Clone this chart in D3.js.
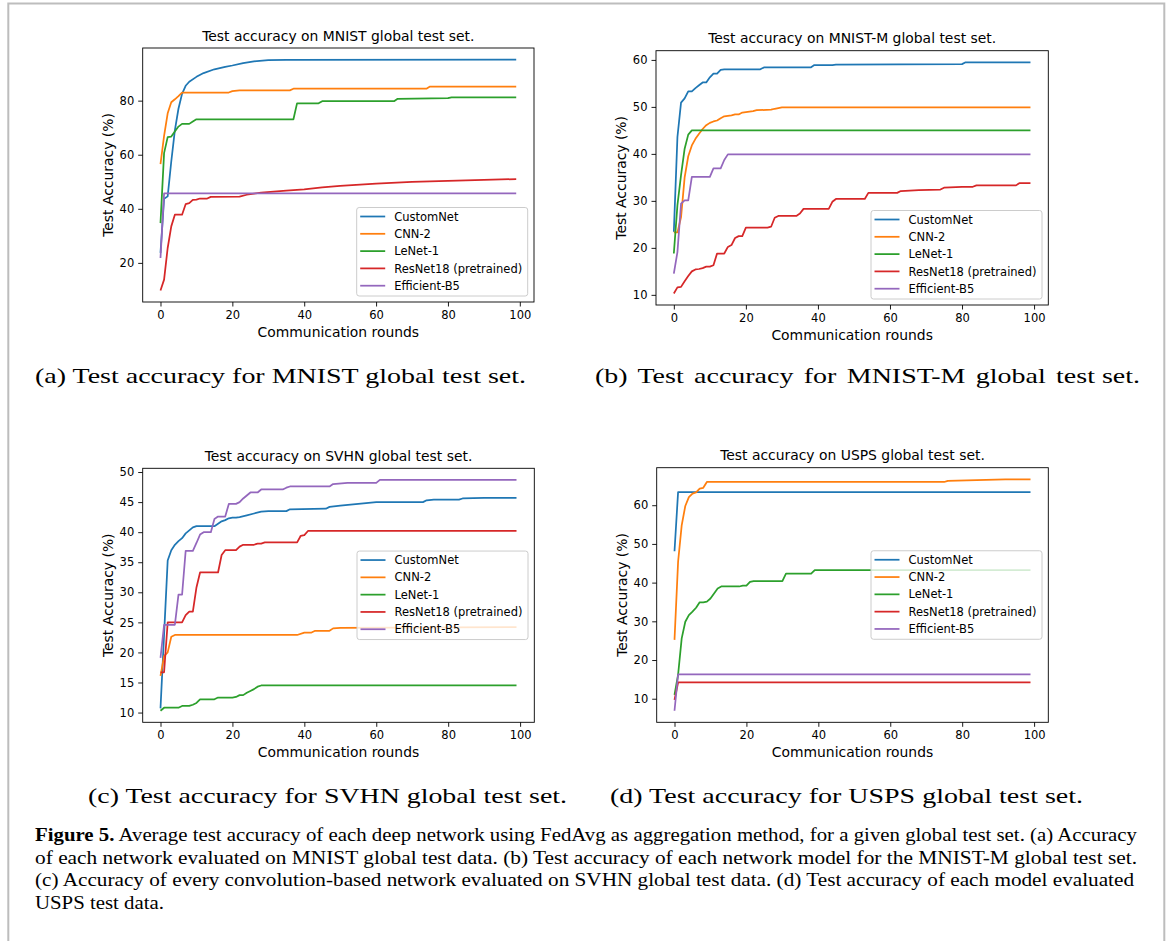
<!DOCTYPE html>
<html>
<head>
<meta charset="utf-8">
<script src="https://cdn.jsdelivr.net/npm/d3@7"></script>
<style>
  body { margin: 0; background: #fff; }
  svg { display: block; }
</style>
</head>
<body>
<svg id="fig" width="1171" height="941"></svg>
<script>
// series names / colours (matplotlib tab10)
const seriesNames = ["CustomNet", "CNN-2", "LeNet-1", "ResNet18 (pretrained)", "Efficient-B5"];
const seriesColors = ["#1f77b4", "#ff7f0e", "#2ca02c", "#d62728", "#9467bd"];

// [round, test accuracy %]
// (a) MNIST
const customA = [[0,23.7],[1,43.7],[2,44.6],[3,57.5],[4,69],[5,77],[6,82.5],[7,85.5],[8,87],[10,88.8],[12,90.2],[15,91.6],[18,92.5],[20,93],[23,93.9],[26,94.5],[30,95],[35,95.1],[99,95.2]];
const cnnA = [[0,56.5],[1,67],[2,75.3],[3,79.4],[4,80.5],[5,81.7],[6,83.0],[19,83.0],[20,83.5],[22,83.8],[36,83.8],[37,84.4],[74,84.4],[75,85.2],[99,85.2]];
const lenetA = [[0,34.7],[1,60.6],[2,66.5],[3,66.7],[4,68.6],[5,70.4],[6,71.4],[8,71.4],[9,72.3],[10,73.1],[37,73.1],[38,79.0],[44,79.0],[45,79.8],[65,79.8],[66,80.7],[80,80.9],[81,81.2],[99,81.2]];
const resA = [[0,9.8],[1,13.8],[2,25.5],[3,33.5],[4,37.8],[6,37.8],[7,41.7],[8,42.1],[9,43.3],[10,43.4],[11,43.8],[13,43.8],[14,44.4],[22,44.5],[24,45.2],[28,46.0],[35,46.7],[40,47.2],[45,47.9],[50,48.5],[60,49.3],[70,50.0],[80,50.3],[90,50.7],[99,51.0]];
const effA = [[0,21.8],[1,45.7],[99,45.7]];

// (b) MNIST-M
const customB = [[0,23.4],[1,43.6],[2,50.9],[3,51.8],[4,53.3],[5,53.3],[6,54.0],[7,54.6],[8,55.2],[9,55.2],[10,56.3],[11,57.1],[12,57.1],[13,57.9],[14,58.0],[24,58.0],[25,58.4],[38,58.4],[39,58.9],[44,58.9],[45,59.0],[80,59.1],[81,59.5],[99,59.5]];
const cnnB = [[0,23.3],[1,23.3],[2,26.5],[3,35.0],[4,39.5],[5,41.8],[6,43.2],[7,44.3],[8,45.3],[9,46.1],[10,46.6],[11,46.9],[12,47.1],[13,47.6],[14,48.0],[15,48.1],[16,48.2],[17,48.4],[18,48.4],[19,48.8],[20,48.9],[22,49.1],[23,49.3],[27,49.4],[28,49.6],[30,49.9],[99,49.9]];
const lenetB = [[0,18.8],[1,29.1],[2,35.5],[3,41.1],[4,44.1],[5,45.0],[99,45.0]];
const resB = [[0,10.3],[1,11.6],[2,11.7],[3,12.9],[4,14.0],[5,15.0],[6,15.4],[7,15.5],[8,15.7],[9,16.0],[10,16.0],[11,16.3],[12,18.8],[14,18.8],[15,20.2],[16,20.6],[17,22.1],[18,22.5],[19,22.5],[20,24.3],[26,24.3],[27,24.5],[28,26.4],[29,26.8],[34,26.8],[35,27.3],[36,28.3],[43,28.3],[44,29.8],[45,30.4],[53,30.4],[54,31.7],[62,31.7],[63,32.1],[68,32.3],[74,32.4],[75,32.8],[80,33.0],[83,33.0],[84,33.3],[95,33.3],[96,33.8],[99,33.8]];
const effB = [[0,14.5],[1,19.1],[2,29.4],[3,30.1],[4,30.1],[5,35.1],[10,35.1],[11,36.9],[13,36.9],[14,38.7],[15,39.9],[99,39.9]];

// (c) SVHN
const customC = [[0,10.7],[1,23],[2,35.3],[3,37.0],[4,37.9],[5,38.5],[6,39.0],[7,39.8],[8,40.3],[9,40.8],[10,41.0],[15,41.0],[16,41.4],[17,41.8],[18,42.0],[19,42.3],[20,42.4],[21,42.4],[22,42.5],[24,42.8],[26,43.1],[28,43.4],[30,43.5],[35,43.5],[36,43.8],[46,43.9],[47,44.2],[50,44.4],[55,44.7],[60,45.0],[73,45.0],[74,45.3],[76,45.4],[83,45.4],[84,45.6],[90,45.7],[99,45.7]];
const cnnC = [[0,16.1],[1,19.4],[2,20.0],[3,22.6],[4,22.9],[38,22.9],[40,23.3],[42,23.3],[43,23.6],[47,23.6],[48,24.0],[50,24.1],[99,24.2]];
const lenetC = [[0,10.3],[1,10.8],[5,10.8],[6,11.1],[8,11.1],[9,11.3],[10,11.6],[11,12.2],[15,12.2],[16,12.5],[20,12.5],[21,12.6],[22,12.9],[23,12.9],[24,13.3],[25,13.6],[26,13.9],[27,14.3],[28,14.5],[99,14.5]];
const resC = [[0,16.7],[1,16.7],[2,25.0],[6,25.0],[7,26.2],[8,26.8],[9,26.8],[10,30.8],[11,33.3],[16,33.3],[17,36.2],[18,37.0],[21,37.0],[22,37.6],[23,37.9],[26,37.9],[27,38.1],[28,38.1],[29,38.3],[38,38.3],[39,39.4],[40,39.5],[41,40.2],[99,40.2]];
const effC = [[0,19.1],[1,24.6],[4,24.6],[5,29.6],[6,29.6],[7,36.9],[9,36.9],[10,38.2],[11,39.6],[12,40.0],[14,40.0],[15,42.2],[16,42.6],[18,42.6],[19,44.7],[21,44.7],[22,45.0],[23,45.6],[24,46.1],[25,46.6],[27,46.6],[28,47.1],[34,47.1],[35,47.4],[36,47.6],[47,47.6],[48,48.0],[52,48.2],[60,48.2],[61,48.7],[99,48.7]];

// (d) USPS
const customD = [[0,48.1],[1,63.4],[99,63.4]];
const cnnD = [[0,25.2],[1,45.4],[2,54.8],[3,59.8],[4,62.1],[5,63.0],[6,63.3],[7,64.3],[8,64.5],[9,66.0],[75,66.0],[76,66.3],[84,66.5],[92,66.7],[99,66.7]];
const lenetD = [[0,11.0],[1,16.2],[2,25.6],[3,29.9],[4,31.6],[5,32.5],[6,33.5],[7,34.9],[8,34.9],[9,35.1],[10,35.9],[11,37.2],[12,38.5],[13,39.0],[18,39.0],[19,39.2],[20,39.2],[21,40.2],[22,40.4],[30,40.4],[31,42.3],[38,42.3],[39,43.2],[99,43.2]];
const resD = [[0,9.7],[1,14.2],[99,14.2]];
const effD = [[0,6.9],[1,16.3],[99,16.3]];

// ticks
const xTicks = [0, 20, 40, 60, 80, 100];
const yTicksA = [20, 40, 60, 80];
const yTicksB = [10, 20, 30, 40, 50, 60];
const yTicksC = [10, 15, 20, 25, 30, 35, 40, 45, 50];
const yTicksD = [10, 20, 30, 40, 50, 60];

// texts
const panelTitles = [
  "Test accuracy on MNIST global test set.",
  "Test accuracy on MNIST-M global test set.",
  "Test accuracy on SVHN global test set.",
  "Test accuracy on USPS global test set."
];
const subCaptions = [
  "(a) Test accuracy for MNIST global test set.",
  "(b) Test accuracy for MNIST-M global test set.",
  "(c) Test accuracy for SVHN global test set.",
  "(d) Test accuracy for USPS global test set."
];
const captionLines = [
  "Average test accuracy of each deep network using FedAvg as aggregation method, for a given global test set. (a) Accuracy",
  "of each network evaluated on MNIST global test data. (b) Test accuracy of each network model for the MNIST-M global test set.",
  "(c) Accuracy of every convolution-based network evaluated on SVHN global test data. (d) Test accuracy of each model evaluated",
  "USPS test data."
];

const svg = d3.select("#fig");
const sans = "'DejaVu Sans', sans-serif";
const serif = "'Liberation Serif', 'Times New Roman', serif";

// page border
svg.append("path")
  .attr("d", "M8.3,950 V3.5 H1164.3 V950")
  .attr("fill", "none").attr("stroke", "#bdbdbd").attr("stroke-width", 2);

const panels = [
  { x: 142.7, y: 48,    w: 391.3, h: 254,   series: [customA, cnnA, lenetA, resA, effA], yTicks: yTicksA, legend: "lower" },
  { x: 656,   y: 50.7,  w: 392.3, h: 254.3, series: [customB, cnnB, lenetB, resB, effB], yTicks: yTicksB, legend: "lower" },
  { x: 142.7, y: 468.3, w: 391.6, h: 254,   series: [customC, cnnC, lenetC, resC, effC], yTicks: yTicksC, legend: "center" },
  { x: 656.7, y: 467.7, w: 391.6, h: 254.6, series: [customD, cnnD, lenetD, resD, effD], yTicks: yTicksD, legend: "center" }
];

panels.forEach((p, i) => drawPanel(p, panelTitles[i]));

function drawPanel(p, title) {
  const g = svg.append("g").attr("transform", `translate(${p.x},${p.y})`);

  const vals = p.series.flat().map(d => d[1]);
  const lo = d3.min(vals), hi = d3.max(vals), pad = (hi - lo) * 0.05;
  const x = d3.scaleLinear().domain([-4.95, 103.95]).range([0, p.w]);
  const y = d3.scaleLinear().domain([lo - pad, hi + pad]).range([p.h, 0]);

  const line = d3.line().x(d => x(d[0])).y(d => y(d[1]));
  p.series.forEach((s, k) => {
    g.append("path").datum(s)
      .attr("d", line)
      .attr("fill", "none")
      .attr("stroke", seriesColors[k])
      .attr("stroke-width", 1.75)
      .attr("stroke-linejoin", "round");
  });

  const xAxis = g.append("g").attr("transform", `translate(0,${p.h})`)
    .call(d3.axisBottom(x).tickValues(xTicks).tickSize(4.5).tickPadding(4).tickFormat(d3.format("d")));
  const yAxis = g.append("g")
    .call(d3.axisLeft(y).tickValues(p.yTicks).tickSize(4.5).tickPadding(4).tickFormat(d3.format("d")));
  [xAxis, yAxis].forEach(a => {
    a.select(".domain").remove();
    a.selectAll("line").attr("stroke", "#000").attr("stroke-width", 0.9);
    a.selectAll("text").attr("font-family", sans).attr("font-size", 11.5).attr("fill", "#000");
  });

  g.append("rect").attr("width", p.w).attr("height", p.h)
    .attr("fill", "none").attr("stroke", "#000").attr("stroke-width", 0.9);

  g.append("text").attr("x", p.w / 2).attr("y", -7.3)
    .attr("text-anchor", "middle").attr("font-family", sans).attr("font-size", 13.9)
    .text(title);
  g.append("text").attr("x", p.w / 2).attr("y", p.h + 34.8)
    .attr("text-anchor", "middle").attr("font-family", sans).attr("font-size", 13.9)
    .text("Communication rounds");
  g.append("text")
    .attr("transform", `translate(-29.8,${p.h / 2}) rotate(-90)`)
    .attr("text-anchor", "middle").attr("font-family", sans).attr("font-size", 13.9)
    .text("Test Accuracy (%)");

  // legend
  const lw = 171, lh = 88.5;
  const lx = p.w - 6.3 - lw;
  const ly = p.legend === "lower" ? p.h - 6 - lh : p.h / 2 - lh / 2;
  const lg = g.append("g").attr("transform", `translate(${lx},${ly})`);
  lg.append("rect").attr("width", lw).attr("height", lh).attr("rx", 2.5)
    .attr("fill", "#fff").attr("fill-opacity", 0.8)
    .attr("stroke", "#cccccc").attr("stroke-width", 1);
  seriesNames.forEach((name, k) => {
    const cy = 9 + k * 17.3;
    lg.append("line").attr("x1", 3.5).attr("x2", 28.5).attr("y1", cy).attr("y2", cy)
      .attr("stroke", seriesColors[k]).attr("stroke-width", 1.75);
    lg.append("text").attr("x", 37.5).attr("y", cy + 4.1)
      .attr("font-family", sans).attr("font-size", 11.5).text(name);
  });
}

// sub-captions
const subPos = [
  { x0: 35, x1: 526, y: 383 },
  { x0: 595, x1: 1140, y: 383 },
  { x0: 88, x1: 567, y: 803 },
  { x0: 610, x1: 1083, y: 803 }
];
const subFont = 22;
// glyph stretch taken from (a), so (b) can spread its extra width over the word gaps
const probe = svg.append("text").attr("font-family", serif).attr("font-size", subFont).text(subCaptions[0]);
const stretch = (subPos[0].x1 - subPos[0].x0) / probe.node().getComputedTextLength();
probe.remove();

subCaptions.forEach((t, i) => {
  const s = subPos[i];
  const el = svg.append("text")
    .attr("transform", `translate(${s.x0},${s.y}) scale(${stretch},1)`)
    .attr("font-family", serif).attr("font-size", subFont);
  if (i === 1) {
    const words = t.split(" ");
    const head = words.slice(0, -1).join(" ");
    const span = el.append("tspan").text(head);
    el.append("tspan").text(" " + words[words.length - 1]);
    const n = el.node().getComputedTextLength();
    const gaps = words.length - 2;
    span.style("word-spacing", ((s.x1 - s.x0) / stretch - n) / gaps + "px");
  } else {
    el.text(t);
    const n = el.node().getComputedTextLength();
    el.attr("textLength", (s.x1 - s.x0) / stretch).attr("lengthAdjust", "spacingAndGlyphs");
  }
});

// figure caption
const capX0 = 35, capX1 = 1137;
const capY = [841, 863.5, 886, 908.5];
const capEls = captionLines.map((t, i) => {
  const el = svg.append("text").attr("x", capX0).attr("y", capY[i])
    .attr("font-family", serif).attr("font-size", 19.5);
  if (i === 0) {
    el.append("tspan").attr("font-weight", "bold").text("Figure 5.");
    el.append("tspan").text(" " + t);
  } else {
    el.text(t);
  }
  return el;
});
const ratio = (capX1 - capX0) / capEls[0].node().getComputedTextLength();
capEls.forEach((el, i) => {
  const n = el.node().getComputedTextLength();
  el.attr("textLength", i < 3 ? (i === 2 ? capX1 - 3 - capX0 : capX1 - capX0) : n * ratio)
    .attr("lengthAdjust", "spacingAndGlyphs");
});
</script>
</body>
</html>
